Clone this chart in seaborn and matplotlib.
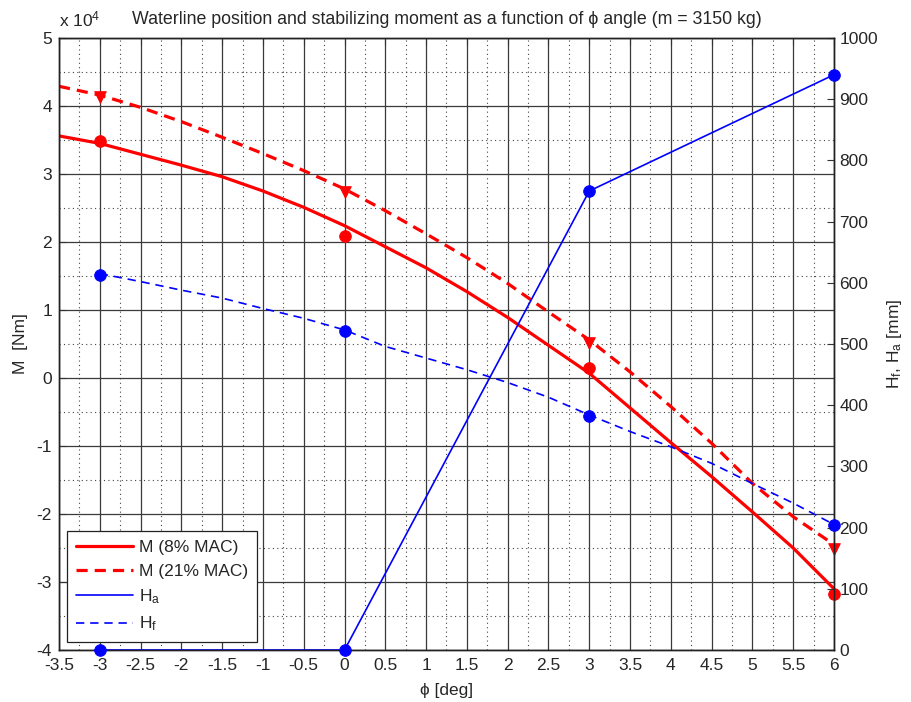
import numpy as np
import pandas as pd
import matplotlib
matplotlib.use("Agg")
import matplotlib.pyplot as plt
from matplotlib.lines import Line2D
from matplotlib.ticker import MultipleLocator, FuncFormatter
import seaborn as sns

# ------------------------------
# data
# ------------------------------
phi_curve = [-3.5, -3, -2.5, -2, -1.5, -1, -0.5, 0, 0.5, 1, 1.5, 2,
             2.5, 3, 3.5, 4, 4.5, 5, 5.5, 6]
# moment curves in Nm
m8_curve = [35600, 34500, 32900, 31300, 29600, 27500, 25100, 22400, 19300,
            16200, 12700, 8900, 4800, 700, -4400, -9500, -14500, -19700,
            -25000, -31000]
m21_curve = [42900, 41600, 39800, 37700, 35400, 33000, 30500, 27800, 24600,
             21200, 17700, 13900, 9700, 5600, 900, -4200, -9600, -15500,
             -20400, -24500]

phi_pts = [-3, 0, 3, 6]
m8_pts = [34800, 20900, 1400, -31700]
m21_pts = [41300, 27400, 5200, -25200]

# waterline heights in mm
ha_pts = [0, 0, 750, 940]
hf_pts = [613, 522, 383, 205]
phi_hf = [-3, -2.5, -2, -1.5, -1, -0.5, 0, 0.5, 1, 1.5, 2, 2.5, 3,
          3.5, 4, 4.5, 5, 5.5, 6]
hf_curve = [615, 602, 588, 575, 558, 542, 523, 496, 477, 458, 437, 413, 384,
            357, 332, 305, 272, 240, 205]

# ------------------------------
# style
# ------------------------------
sns.set_style("white")
plt.rcParams["font.family"] = ["Liberation Sans", "DejaVu Sans"]
plt.rcParams["mathtext.default"] = "regular"
plt.rcParams["font.size"] = 12

RED = "#FF0000"
BLUE = "#0000FF"

fig = plt.figure(figsize=(9.12, 7.02), dpi=100)
ax = fig.add_axes([59 / 912, 52 / 702, 775 / 912, 612 / 702])
ax2 = ax.twinx()

# moment lines (left axis)
sns.lineplot(x=phi_curve, y=m8_curve, ax=ax, color=RED, lw=2.3, sort=False)
sns.lineplot(x=phi_curve, y=m21_curve, ax=ax, color=RED, lw=2.3,
             linestyle=(0, (3.5, 2.2)), sort=False)
sns.scatterplot(x=phi_pts, y=m8_pts, ax=ax, color=RED, marker="o", s=70,
                edgecolor=RED, zorder=5, clip_on=False)
sns.scatterplot(x=phi_pts, y=m21_pts, ax=ax, color=RED, marker="v", s=70,
                edgecolor=RED, zorder=5, clip_on=False)

# waterline lines (right axis)
sns.lineplot(x=phi_pts, y=ha_pts, ax=ax2, color=BLUE, lw=1.2, sort=False)
sns.lineplot(x=phi_hf, y=hf_curve, ax=ax2, color=BLUE, lw=1.2,
             linestyle=(0, (5, 3.5)), sort=False)
sns.scatterplot(x=phi_pts, y=ha_pts, ax=ax2, color=BLUE, marker="o", s=70,
                edgecolor=BLUE, zorder=5, clip_on=False)
sns.scatterplot(x=phi_pts, y=hf_pts, ax=ax2, color=BLUE, marker="o", s=70,
                edgecolor=BLUE, zorder=5, clip_on=False)

# axes limits / ticks
ax.set_xlim(-3.5, 6)
ax.set_ylim(-40000, 50000)
ax2.set_ylim(0, 1000)
ax.xaxis.set_major_locator(MultipleLocator(0.5))
ax.xaxis.set_minor_locator(MultipleLocator(0.25))
ax.yaxis.set_major_locator(MultipleLocator(10000))
ax.yaxis.set_minor_locator(MultipleLocator(5000))
ax.yaxis.set_major_formatter(FuncFormatter(lambda v, p: f"{v / 1e4:g}"))
ax.xaxis.set_major_formatter(FuncFormatter(lambda v, p: f"{v:g}"))
ax2.yaxis.set_major_locator(MultipleLocator(100))

ax.grid(which="major", color="#3a3a3a", lw=0.9, ls="-")
ax.grid(which="minor", color="#444444", lw=0.8, ls=(0, (1, 3)))
ax.set_axisbelow(True)

ax.tick_params(axis="x", which="major", direction="in", length=5, top=True,
               labelsize=12.5, pad=6, color="#333333")
ax.tick_params(axis="y", which="major", direction="in", length=5,
               labelsize=12.5, pad=5, color="#333333")
ax.tick_params(which="minor", length=0)
ax2.tick_params(which="major", direction="in", length=5, labelsize=12.5,
                pad=4, color="#333333")
for a in (ax, ax2):
    for sp in a.spines.values():
        sp.set_color("#222222")
        sp.set_linewidth(1.0)

ax.set_xlabel("\u03d5 [deg]", fontsize=12.5, labelpad=7)
ax.set_ylabel("M  [Nm]", fontsize=12.5, labelpad=6)
ax2.set_ylabel("H$_f$, H$_a$ [mm]", fontsize=12.5, labelpad=5)
ax.set_title("Waterline position and stabilizing moment as a function of "
             "\u03d5 angle (m = 3150 kg)", fontsize=12.8, pad=10)
ax.text(0.0, 1.014, "x 10$^4$", transform=ax.transAxes, ha="left",
        va="bottom", fontsize=12.5)

# legend
handles = [
    Line2D([], [], color=RED, lw=2.3),
    Line2D([], [], color=RED, lw=2.3, ls=(0, (3.5, 2.2))),
    Line2D([], [], color=BLUE, lw=1.2),
    Line2D([], [], color=BLUE, lw=1.2, ls=(0, (5, 3.5))),
]
labels = ["M (8% MAC)", "M (21% MAC)", "H$_a$", "H$_f$"]
leg = ax2.legend(handles, labels, loc="lower left",
                 bbox_to_anchor=(0.0105, 0.013), borderaxespad=0,
                 fontsize=12.5, handlelength=3.3, handletextpad=0.35,
                 labelspacing=0.5, fancybox=False, framealpha=1,
                 edgecolor="#222222", borderpad=0.5)
leg.get_frame().set_linewidth(0.9)

fig.savefig("out.png", dpi=100)
